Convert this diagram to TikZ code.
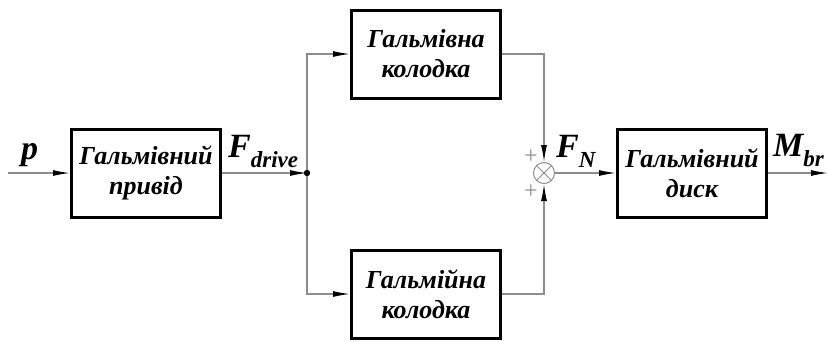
\documentclass[tikz,border=0pt]{standalone}
\usepackage{fontspec}
\setmainfont{Liberation Serif}
\usetikzlibrary{arrows.meta}
\definecolor{wiregray}{RGB}{140,140,140}
\newcommand{\sig}[2]{#1\raisebox{-10pt}{\fontsize{23}{23}\selectfont #2}}

\begin{document}
\begin{tikzpicture}[x=1pt,y=-1pt,
    block/.style={draw=black,line width=3pt,minimum width=149pt,minimum height=88pt,
      align=center,font=\bfseries\itshape\fontsize{26}{30}\selectfont},
    lbl/.style={anchor=base west,inner sep=0pt,font=\bfseries\itshape\fontsize{34}{34}\selectfont},
    plus/.style={text=wiregray,inner sep=0pt,font=\fontsize{24}{24}\selectfont}]
  \useasboundingbox (0,0) rectangle (828,341);

  \node[block] (drive) at (146,173) {Гальмівний\\привід};
  \node[block] (shoeA) at (426,54) {Гальмівна\\колодка};
  \node[block] (shoeB) at (426,294) {Гальмійна\\колодка};
  \node[block] (disk) at (692,173) {Гальмівний\\диск};

  \node[circle,draw=wiregray,line width=1pt,minimum size=21pt,inner sep=0pt] (sum) at (544,173) {};
  \draw[wiregray,line width=1pt] (sum.north west) -- (sum.south east)
                                 (sum.north east) -- (sum.south west);
  \node[plus] (plusA) at (531,157) {+};
  \node[plus] (plusB) at (531,192) {+};

  \coordinate (in) at (8,173);
  \coordinate (split) at (307,173);
  \coordinate (out) at (828,173);

  \node[lbl] (p) at (21,159) {p};
  \node[lbl] (Fdrive) at (228,157) {\sig{F}{drive}};
  \node[lbl] (FN) at (556,157) {\sig{F}{N}};
  \node[lbl] (Mbr) at (773,156) {\sig{M}{br}};

  \begin{scope}[wiregray,line width=1.3pt,>={Latex[length=17pt,width=6pt,color=black]}]
      % input and drive force:
      \draw[->] (in) -- (drive.west);
      \draw[->] (drive.east) -- (split);
      % two shoes:
      \draw[->] (split) |- (shoeA.west);
      \draw[->] (split) |- (shoeB.west);
      \draw[->] (shoeA.east) -| (sum.north);
      \draw[->] (shoeB.east) -| (sum.south);
      % normal force and torque:
      \draw[->] (sum.east) -- (disk.west);
      \draw[->] (disk.east) -- (out);
  \end{scope}
  \fill[black] (split) circle (3.2pt);
\end{tikzpicture}
\end{document}
